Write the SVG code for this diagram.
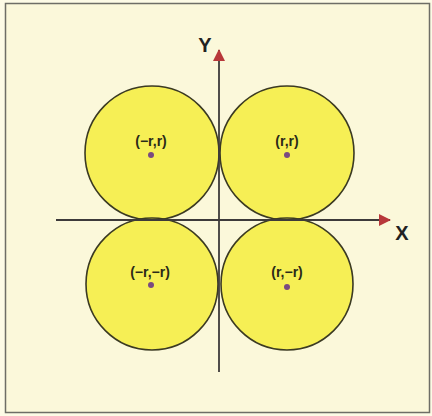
<svg xmlns="http://www.w3.org/2000/svg" width="432" height="416" viewBox="0 0 432 416">
<style>
.c{fill:#f6ef55;stroke:#3b3a22;stroke-width:1.6}
.ax{stroke:#3d3a3a;stroke-width:1.8;fill:none}
.lb{font-family:"Liberation Sans",Arial,sans-serif;font-size:14px;font-weight:bold;fill:#2a2a18;text-anchor:middle}
.big{font-family:"Liberation Sans",Arial,sans-serif;font-size:20px;font-weight:bold;fill:#222;text-anchor:middle}
.d{fill:#7a4a80}
</style>
<defs>
<marker id="ah" viewBox="0 0 12 12" refX="11" refY="6" markerWidth="12" markerHeight="12" markerUnits="userSpaceOnUse" orient="auto">
<path d="M0,0 L12,6 L0,12 z" fill="#b8383a"/>
</marker>
</defs>
<rect x="0" y="0" width="432" height="416" fill="#fdfbe6"/>
<rect x="5.5" y="3.5" width="424" height="409" fill="#fbf8da" stroke="#6e6e66" stroke-width="1.5"/>
<g id="n1"><circle class="c" cx="152" cy="153" r="67"/><text class="lb" x="151" y="146">(−r,r)</text><circle class="d" cx="151" cy="155" r="3"/></g>
<g id="n2"><circle class="c" cx="287" cy="153" r="67"/><text class="lb" x="287" y="146">(r,r)</text><circle class="d" cx="287" cy="155" r="3"/></g>
<g id="n3"><circle class="c" cx="152" cy="284" r="66"/><text class="lb" x="150" y="277">(−r,−r)</text><circle class="d" cx="151" cy="285" r="3"/></g>
<g id="n4"><circle class="c" cx="287" cy="284" r="66"/><text class="lb" x="287" y="277">(r,−r)</text><circle class="d" cx="287" cy="287" r="3"/></g>
<g id="axes">
<line class="ax" x1="219" y1="372" x2="219" y2="50" marker-end="url(#ah)"/>
<line class="ax" x1="56" y1="220" x2="390" y2="220" marker-end="url(#ah)"/>
</g>
<text class="big" x="205" y="52">Y</text>
<text class="big" x="402" y="240">X</text>
</svg>
